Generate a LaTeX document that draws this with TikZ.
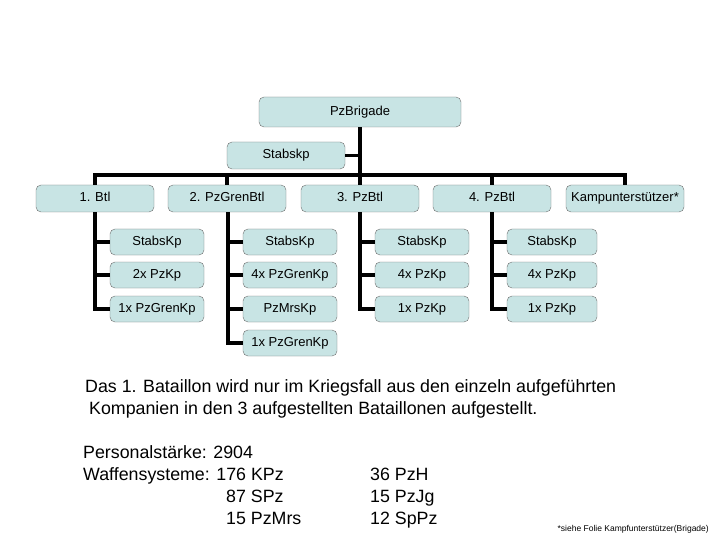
\documentclass[tikz,border=0pt]{standalone}
\usepackage{fontspec}
\setmainfont{Liberation Sans}
\definecolor{boxfill}{RGB}{200,228,228}
\definecolor{boxline}{RGB}{110,110,110}
\begin{document}
\begin{tikzpicture}[x=1pt,y=-1pt,
  unit/.style={draw=boxline, fill=boxfill, rounded corners=5pt, minimum height=27pt, font=\fontsize{13}{15}\selectfont, text height=9.5pt, text depth=2.5pt, inner sep=1pt},
  btl/.style={unit, minimum width=118pt},
  kp/.style={unit, minimum width=94pt, minimum height=26pt},
  link/.style={line width=3.5pt},
  txt/.style={anchor=base west, font=\fontsize{17.8}{20}\selectfont, inner sep=0}]
\useasboundingbox (0,0) rectangle (720,540);

\node[unit, minimum width=202pt, minimum height=30pt] (brig) at (360,112) {PzBrigade};
\node[unit, minimum width=118pt] (stab) at (286,155.5) {Stabskp};
\coordinate (bus) at (360,175);

\node[btl] (B1) at (95,198.5) {1. Btl};
\node[btl] (B2) at (227,198.5) {2. PzGrenBtl};
\node[btl] (B3) at (360,198.5) {3. PzBtl};
\node[btl] (B4) at (492,198.5) {4. PzBtl};
\node[btl] (B5) at (625,198.5) {Kampunterstützer*};

\node[kp] (A1) at (157,242) {StabsKp};
\node[kp] (A2) at (157,275) {2x PzKp};
\node[kp] (A3) at (157,309) {1x PzGrenKp};
\node[kp] (G1) at (290,242) {StabsKp};
\node[kp] (G2) at (290,275) {4x PzGrenKp};
\node[kp] (G3) at (290,309) {PzMrsKp};
\node[kp] (G4) at (290,343) {1x PzGrenKp};
\node[kp] (C1) at (422,242) {StabsKp};
\node[kp] (C2) at (422,275) {4x PzKp};
\node[kp] (C3) at (422,309) {1x PzKp};
\node[kp, minimum width=90pt] (D1) at (552,242) {StabsKp};
\node[kp, minimum width=90pt] (D2) at (552,275) {4x PzKp};
\node[kp, minimum width=90pt] (D3) at (552,309) {1x PzKp};

\draw[link] (brig.south) -- (bus);
\draw[link] (stab.east) -- (stab.east -| bus);
\draw[link] (B1.north) |- (bus) -| (B5.north);
\foreach \b in {B2,B3,B4} \draw[link] (\b.north) -- (\b.north |- bus);
\draw[link] (B1.south -| 95,0) |- (A3.west);
\foreach \k in {A1,A2} \draw[link] (95,0 |- \k.west) -- (\k.west);
\draw[link] (B2.south -| 228,0) |- (G4.west);
\foreach \k in {G1,G2,G3} \draw[link] (228,0 |- \k.west) -- (\k.west);
\draw[link] (B3.south) |- (C3.west);
\foreach \k in {C1,C2} \draw[link] (360,0 |- \k.west) -- (\k.west);
\draw[link] (B4.south) |- (D3.west);
\foreach \k in {D1,D2} \draw[link] (492,0 |- \k.west) -- (\k.west);

\node[txt] (note1) at (85,392) {Das 1. Bataillon wird nur im Kriegsfall aus den einzeln aufgeführten};
\node[txt] (note2) at (89,414) {Kompanien in den 3 aufgestellten Bataillonen aufgestellt.};
\node[txt] (pers) at (83,458) {Personalstärke: 2904};
\node[txt] (waff) at (83,480) {Waffensysteme: 176 KPz};
\node[txt] (w2) at (226,502) {87 SPz};
\node[txt] (w3) at (226,524) {15 PzMrs};
\node[txt] (w4) at (370,480) {36 PzH};
\node[txt] (w5) at (370,502) {15 PzJg};
\node[txt] (w6) at (370,524) {12 SpPz};
\node[anchor=base east, font=\fontsize{8.5}{9}\selectfont, inner sep=0] (foot) at (709,531) {*siehe Folie Kampfunterstützer(Brigade)};
\end{tikzpicture}
\end{document}
